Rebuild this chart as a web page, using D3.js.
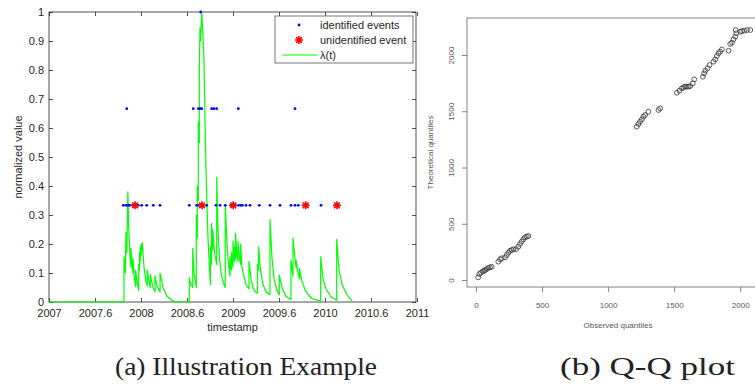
<!DOCTYPE html>
<html>
<head>
<meta charset="utf-8">
<script src="https://cdnjs.cloudflare.com/ajax/libs/d3/7.8.5/d3.min.js"></script>
<style>
  body { margin: 0; background: #fff; }
  svg { display: block; }
</style>
</head>
<body>
<svg id="fig" width="755" height="386"></svg>
<script>
// ---- panel (a) data ----
const xTickVals = [2007, 2007.5, 2008, 2008.5, 2009, 2009.5, 2010, 2010.5, 2011];
const xTickLabels = ['2007', '2007.6', '2008', '2008.6', '2009', '2009.6', '2010', '2010.6', '2011'];
const yTickVals = [0, 0.1, 0.2, 0.3, 0.4, 0.5, 0.6, 0.7, 0.8, 0.9, 1];
const yTickLabels = ['0', '0.1', '0.2', '0.3', '0.4', '0.5', '0.6', '0.7', '0.8', '0.9', '1'];

// identified events, by level
const identLow = [2007.808, 2007.837, 2007.859, 2007.880, 2007.913, 2007.971, 2008.008, 2008.062, 2008.134, 2008.207,
  2008.525, 2008.605, 2008.630, 2008.652, 2008.714, 2008.815, 2008.859, 2008.916, 2008.978, 2009.022, 2009.060,
  2009.082, 2009.101, 2009.141, 2009.185, 2009.286, 2009.402, 2009.511, 2009.630, 2009.674, 2009.710, 2009.957];
const identMid = [2007.845, 2008.568, 2008.623, 2008.641, 2008.660, 2008.768, 2008.793, 2008.823, 2009.058, 2009.674];
const identTop = [2008.649];
const unidentified = [2007.935, 2008.663, 2009.003, 2009.790, 2010.130];
const levelLow = 1 / 3, levelMid = 2 / 3, levelTop = 1;

// lambda(t) vertices [time, value]
const lambdaPts = [
  [2007.000, 0], [2007.815, 0], [2007.815, 0.155], [2007.829, 0.10], [2007.837, 0.24], [2007.846, 0.17],
  [2007.857, 0.38], [2007.867, 0.25], [2007.880, 0.16], [2007.891, 0.12], [2007.891, 0.185], [2007.902, 0.13],
  [2007.913, 0.10], [2007.913, 0.15], [2007.929, 0.08], [2007.942, 0.053], [2007.942, 0.11], [2007.962, 0.06],
  [2007.975, 0.04], [2007.975, 0.13], [2007.984, 0.11], [2007.984, 0.17], [2007.992, 0.14], [2007.992, 0.19],
  [2008.002, 0.16], [2008.002, 0.20], [2008.014, 0.175], [2008.014, 0.205], [2008.033, 0.12], [2008.054, 0.07],
  [2008.068, 0.055], [2008.068, 0.11], [2008.087, 0.07], [2008.101, 0.05], [2008.101, 0.095], [2008.130, 0.05],
  [2008.152, 0.035], [2008.152, 0.09], [2008.174, 0.055], [2008.207, 0.035], [2008.207, 0.10], [2008.239, 0.05],
  [2008.283, 0.02], [2008.337, 0.006], [2008.391, 0], [2008.525, 0],
  [2008.525, 0.083], [2008.543, 0.06], [2008.562, 0.05], [2008.562, 0.185], [2008.576, 0.10], [2008.601, 0.05],
  [2008.601, 0.30], [2008.612, 0.22], [2008.612, 0.40], [2008.623, 0.35], [2008.623, 0.62], [2008.634, 0.55],
  [2008.634, 0.80], [2008.641, 0.945], [2008.648, 0.90], [2008.660, 1.0], [2008.668, 0.95], [2008.676, 0.90],
  [2008.685, 0.83], [2008.696, 0.62], [2008.707, 0.45], [2008.717, 0.33], [2008.728, 0.22], [2008.739, 0.15],
  [2008.755, 0.06], [2008.755, 0.19], [2008.766, 0.13], [2008.766, 0.27], [2008.780, 0.18], [2008.780, 0.25],
  [2008.799, 0.17], [2008.823, 0.13], [2008.823, 0.43], [2008.837, 0.25], [2008.853, 0.15], [2008.870, 0.10],
  [2008.891, 0.07], [2008.916, 0.05], [2008.916, 0.335], [2008.935, 0.20], [2008.951, 0.13], [2008.967, 0.09],
  [2008.967, 0.155], [2008.984, 0.11], [2008.984, 0.17], [2009.000, 0.12], [2009.000, 0.21], [2009.016, 0.14],
  [2009.016, 0.19], [2009.027, 0.15], [2009.027, 0.237], [2009.043, 0.16], [2009.054, 0.14], [2009.054, 0.21],
  [2009.071, 0.15], [2009.082, 0.13], [2009.082, 0.20], [2009.098, 0.12], [2009.120, 0.087], [2009.141, 0.06],
  [2009.174, 0.045], [2009.174, 0.14], [2009.196, 0.08], [2009.217, 0.05], [2009.239, 0.035], [2009.266, 0.03],
  [2009.266, 0.13], [2009.277, 0.11], [2009.277, 0.19], [2009.299, 0.11], [2009.326, 0.06], [2009.359, 0.035],
  [2009.402, 0.025], [2009.402, 0.285], [2009.424, 0.15], [2009.446, 0.08], [2009.478, 0.04], [2009.503, 0.025],
  [2009.503, 0.093], [2009.533, 0.05], [2009.576, 0.02], [2009.630, 0.008], [2009.630, 0.145], [2009.647, 0.10],
  [2009.652, 0.09], [2009.652, 0.22], [2009.674, 0.15], [2009.685, 0.12], [2009.685, 0.145], [2009.707, 0.10],
  [2009.723, 0.08], [2009.723, 0.116], [2009.750, 0.07], [2009.793, 0.035], [2009.859, 0.012], [2009.953, 0.003],
  [2009.953, 0.156], [2009.978, 0.08], [2010.011, 0.045], [2010.065, 0.018], [2010.127, 0.006], [2010.127, 0.216],
  [2010.152, 0.11], [2010.185, 0.06], [2010.239, 0.025], [2010.293, 0.003]
];

const legendLabels = ['identified events', 'unidentified event', '\u03bb(t)'];

// ---- panel (b) data ----
const qqTicks = [0, 500, 1000, 1500, 2000];
const observedQ = [17, 25, 38, 51, 61, 70, 81, 93, 106, 119,
  169, 182, 195, 220, 233, 245, 258, 270, 283, 303, 320, 333, 346, 358, 371, 384, 396,
  1217, 1230, 1242, 1255, 1268, 1280, 1305, 1381, 1394,
  1520, 1540, 1558, 1571, 1583, 1596, 1609, 1621, 1641, 1652,
  1717, 1727, 1735, 1753, 1768, 1798, 1811, 1823, 1836, 1848, 1861, 1912,
  1924, 1937, 1949, 1962, 1970, 1966, 2000, 2013, 2030, 2051, 2076];
const theoreticalQ = [24, 53, 65, 77, 82, 89, 98, 107, 113, 118,
  163, 184, 193, 201, 222, 243, 260, 267, 273, 275, 296, 320, 341, 362, 380, 385, 391,
  1363, 1387, 1407, 1428, 1452, 1467, 1496, 1511, 1526,
  1665, 1683, 1704, 1713, 1719, 1719, 1719, 1724, 1748, 1784,
  1807, 1837, 1861, 1882, 1911, 1941, 1961, 1991, 2015, 2030, 2050, 2038,
  2098, 2110, 2139, 2163, 2193, 2222, 2207, 2213, 2216, 2222, 2222];

const svg = d3.select('#fig');

// ================= panel (a) =================
const A = {left: 49, right: 416, top: 12, bottom: 302};
const x = d3.scaleLinear().domain([2007, 2011]).range([A.left, A.right + 1]);
const y = d3.scaleLinear().domain([0, 1]).range([A.bottom, A.top]);
const fontA = 'Liberation Sans, Arial, Helvetica, sans-serif';
const axisCol = '#262626';

const ga = svg.append('g');

// tick marks on all four sides (inward), labels bottom/left
function styleAxis(sel, showLabels) {
  sel.select('.domain').remove();
  sel.selectAll('.tick line').attr('stroke', axisCol).attr('stroke-width', 0.8);
  sel.selectAll('.tick text')
    .attr('fill', axisCol)
    .style('font-family', fontA)
    .style('font-size', '11px')
    .style('display', showLabels ? null : 'none');
}
ga.append('g').attr('transform', `translate(0,${A.bottom})`)
  .call(d3.axisBottom(x).tickValues(xTickVals).tickFormat((d, i) => xTickLabels[i]).tickSizeInner(-4).tickSizeOuter(0).tickPadding(7))
  .call(s => styleAxis(s, true));
ga.append('g').attr('transform', `translate(0,${A.top})`)
  .call(d3.axisTop(x).tickValues(xTickVals).tickSizeInner(-4).tickSizeOuter(0))
  .call(s => styleAxis(s, false));
ga.append('g').attr('transform', `translate(${A.left},0)`)
  .call(d3.axisLeft(y).tickValues(yTickVals).tickFormat((d, i) => yTickLabels[i]).tickSizeInner(-4).tickSizeOuter(0).tickPadding(5))
  .call(s => styleAxis(s, true));
ga.append('g').attr('transform', `translate(${A.right},0)`)
  .call(d3.axisRight(y).tickValues(yTickVals).tickSizeInner(-4).tickSizeOuter(0))
  .call(s => styleAxis(s, false));

ga.append('rect')
  .attr('x', A.left).attr('y', A.top)
  .attr('width', A.right - A.left).attr('height', A.bottom - A.top)
  .attr('fill', 'none').attr('stroke', axisCol).attr('stroke-width', 0.8);

// lambda line
const line = d3.line().x(d => x(d[0])).y(d => y(d[1]));
ga.append('path')
  .datum(lambdaPts)
  .attr('d', line)
  .attr('fill', 'none')
  .attr('stroke', '#00ff00')
  .attr('stroke-width', 1.2)
  .attr('stroke-linejoin', 'round');

// identified events (blue dots)
const dots = [].concat(
  identLow.map(t => [t, levelLow]),
  identMid.map(t => [t, levelMid]),
  identTop.map(t => [t, levelTop])
);
ga.selectAll('circle.ev').data(dots).enter().append('circle')
  .attr('class', 'ev')
  .attr('cx', d => x(d[0])).attr('cy', d => y(d[1]))
  .attr('r', 1.4).attr('fill', '#0000ff');

// unidentified (red asterisks)
function asterisk(r) {
  const a = r * 0.72;
  return `M${-r},0H${r}M0,${-r}V${r}M${-a},${-a}L${a},${a}M${-a},${a}L${a},${-a}`;
}
ga.selectAll('path.un').data(unidentified).enter().append('path')
  .attr('class', 'un')
  .attr('transform', d => `translate(${x(d)},${y(levelLow)})`)
  .attr('d', asterisk(4))
  .attr('stroke', '#ff0000').attr('stroke-width', 1.6).attr('fill', 'none');

// axis titles
ga.append('text')
  .attr('x', (A.left + A.right) / 2).attr('y', 331)
  .attr('text-anchor', 'middle')
  .attr('fill', axisCol)
  .style('font-family', fontA).style('font-size', '11px')
  .text('timestamp');
ga.append('text')
  .attr('transform', `translate(22,${(A.top + A.bottom) / 2}) rotate(-90)`)
  .attr('text-anchor', 'middle')
  .attr('fill', axisCol)
  .style('font-family', fontA).style('font-size', '11px')
  .text('normalized value');

// legend
const lg = ga.append('g').attr('transform', 'translate(275,16)');
lg.append('rect').attr('width', 138).attr('height', 47)
  .attr('fill', '#fff').attr('stroke', '#555').attr('stroke-width', 0.8);
lg.append('circle').attr('cx', 24).attr('cy', 9).attr('r', 1.4).attr('fill', '#0000ff');
lg.append('path').attr('transform', 'translate(24,24)').attr('d', asterisk(4))
  .attr('stroke', '#ff0000').attr('stroke-width', 1.6).attr('fill', 'none');
lg.append('line').attr('x1', 7).attr('x2', 42).attr('y1', 39).attr('y2', 39)
  .attr('stroke', '#00ff00').attr('stroke-width', 1.2);
lg.selectAll('text').data(legendLabels).enter().append('text')
  .attr('x', 45).attr('y', (d, i) => 13 + i * 15)
  .attr('fill', axisCol)
  .style('font-family', fontA).style('font-size', '11px')
  .text(d => d);

// ================= panel (b) =================
const B = {left: 467, right: 759, top: 18, bottom: 287};
const qx = d3.scaleLinear().domain([-68, 2142]).range([B.left, B.right]);
const qy = d3.scaleLinear().domain([-62, 2329]).range([B.bottom, B.top]);
const fontB = 'Liberation Sans, Arial, Helvetica, sans-serif';
const grayB = '#555';

const gb = svg.append('g');
gb.append('rect')
  .attr('x', B.left).attr('y', B.top)
  .attr('width', B.right - B.left).attr('height', B.bottom - B.top)
  .attr('fill', 'none').attr('stroke', '#777').attr('stroke-width', 0.9);

const xb = gb.append('g').attr('transform', `translate(0,${B.bottom})`)
  .call(d3.axisBottom(qx).tickValues(qqTicks).tickFormat(d3.format('d')).tickSizeInner(5).tickSizeOuter(0).tickPadding(10));
const yb = gb.append('g').attr('transform', `translate(${B.left},0)`)
  .call(d3.axisLeft(qy).tickValues(qqTicks).tickFormat(d3.format('d')).tickSizeInner(5).tickSizeOuter(0).tickPadding(11));
[xb, yb].forEach(s => {
  s.select('.domain').remove();
  s.selectAll('.tick line').attr('stroke', '#777').attr('stroke-width', 0.9);
  s.selectAll('.tick text').attr('fill', grayB)
    .style('font-family', fontB).style('font-size', '8px');
});
// R draws y labels parallel to the axis
yb.selectAll('.tick text')
  .attr('x', null).attr('dy', null)
  .attr('text-anchor', 'middle')
  .attr('transform', 'translate(-13,0) rotate(-90)');

gb.selectAll('circle.qq').data(observedQ).enter().append('circle')
  .attr('class', 'qq')
  .attr('cx', d => qx(d))
  .attr('cy', (d, i) => qy(theoreticalQ[i]))
  .attr('r', 2.4)
  .attr('fill', 'none').attr('stroke', '#333').attr('stroke-width', 0.8);

gb.append('text')
  .attr('x', 618).attr('y', 328)
  .attr('text-anchor', 'middle').attr('fill', grayB)
  .style('font-family', fontB).style('font-size', '8px')
  .text('Observed quantiles');
gb.append('text')
  .attr('transform', `translate(433,${(B.top + B.bottom) / 2}) rotate(-90)`)
  .attr('text-anchor', 'middle').attr('fill', grayB)
  .style('font-family', fontB).style('font-size', '8px')
  .text('Theoretical quantiles');

// ================= captions =================
const fontCap = '"Liberation Serif", "Times New Roman", Times, serif';
svg.append('text')
  .attr('x', 115).attr('y', 375)
  .attr('textLength', 262).attr('lengthAdjust', 'spacingAndGlyphs')
  .attr('fill', '#222')
  .style('font-family', fontCap).style('font-size', '26px')
  .text('(a) Illustration Example');
svg.append('text')
  .attr('x', 560).attr('y', 375)
  .attr('textLength', 175).attr('lengthAdjust', 'spacingAndGlyphs')
  .attr('fill', '#222')
  .style('font-family', fontCap).style('font-size', '26px')
  .text('(b) Q-Q plot');
</script>
</body>
</html>
